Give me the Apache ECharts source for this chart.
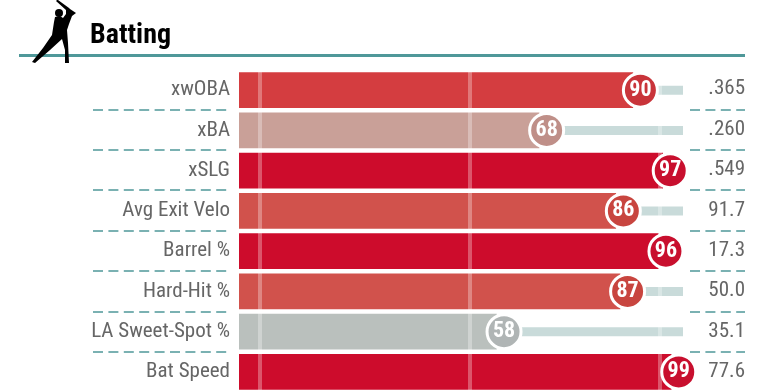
<!DOCTYPE html>
<html>
<head>
<meta charset="utf-8">
<script src="https://cdn.jsdelivr.net/npm/echarts@6/dist/echarts.min.js"></script>
<style>html,body{margin:0;background:#fff}#main{width:764px;height:392px}</style>
</head>
<body>
<div id="main"></div>
<script>
var metrics = ['xwOBA', 'xBA', 'xSLG', 'Avg Exit Velo', 'Barrel %', 'Hard-Hit %', 'LA Sweet-Spot %', 'Bat Speed'];
var percentiles = [90, 68, 97, 86, 96, 87, 58, 99];
var statValues = ['.365', '.260', '.549', '91.7', '17.3', '50.0', '35.1', '77.6'];
var barColors = ['#d43d40', '#c9a098', '#cd0c2c', '#d1524c', '#cd0c2c', '#d1524c', '#bac0bd', '#cd0c2c'];
var dotColors = ['#c9343a', '#bf8f88', '#c80f2e', '#c8453f', '#c80f2e', '#c8453f', '#b0b5b5', '#c80f2e'];
var trackMax = [100, 100, 100, 100, 100, 100, 100, 100];
var refLines = [0.6, 50, 94.6];

var narrow = '"Roboto Condensed","Liberation Sans Narrow",Roboto,sans-serif';
var teal = '#4f9899';
var dashes = { show: true, showMinLine: false, showMaxLine: false, lineStyle: { color: teal, type: [10, 5.4], width: 1.5 } };

function sideAxis(grid, labels, opts) {
  return Object.assign({
    type: 'category', gridIndex: grid, inverse: true, data: labels,
    axisLine: { show: false }, axisTick: { show: false }, splitLine: dashes,
    axisLabel: { show: false }
  }, opts || {});
}
function hiddenX(grid, min, max) {
  return { type: 'value', gridIndex: grid, min: min, max: max, show: false };
}

// bars run from the left edge of the grid, not from zero
function renderBar(params, api) {
  var end = api.coord([api.value(0), api.value(1)]);
  var h = api.size([0, 1])[1] * 0.89;
  var left = params.coordSys.x;
  return {
    type: 'rect',
    shape: { x: left, y: end[1] - h / 2, width: end[0] - left, height: h },
    style: { fill: barColors[params.dataIndex] }
  };
}

var myChart = echarts.init(document.getElementById('main'));

myChart.setOption({
  animation: false,
  title: {
    text: 'Batting', left: 85, top: 17,
    textStyle: { color: '#000', fontFamily: narrow, fontWeight: 'bold', fontSize: 28 }
  },
  graphic: [
    { type: 'rect', shape: { x: 19, y: 54, width: 726, height: 3 }, style: { fill: teal } },
    {
      type: 'polygon', z: 10,
      shape: { points: [[57, 0], [58, 0], [69, 8], [70, 9], [76, 13], [72, 16], [69, 24], [67, 30], [68, 43], [69, 63], [65, 63], [65, 50], [62, 39], [50, 50], [35, 63], [32, 62], [43, 48], [52, 35], [54, 22], [55, 17], [60, 16], [63, 18], [66, 14], [66, 10], [56, 1]] },
      style: { fill: '#000' }
    },
    { type: 'circle', z: 10, shape: { cx: 59, cy: 13, r: 4 }, style: { fill: '#000' } }
  ],
  grid: [
    { left: 239, right: 81, top: 70, height: 324 },
    { left: 93, width: 137, top: 69, height: 324 },
    { left: 690, width: 55, top: 69, height: 324 }
  ],
  xAxis: [
    hiddenX(0, -4.2, 100),
    hiddenX(0, -2.5, 101.7),
    hiddenX(1, 0, 1),
    hiddenX(2, 0, 1)
  ],
  yAxis: [
    {
      type: 'category', gridIndex: 0, inverse: true, data: metrics,
      axisLine: { show: false }, axisTick: { show: false },
      axisLabel: { margin: 9, padding: [2, 0, 0, 0], color: '#666', fontFamily: narrow, fontSize: 21 }
    },
    sideAxis(1, metrics),
    sideAxis(2, statValues, {
      position: 'right',
      axisLabel: { show: true, inside: true, margin: 0, padding: [4, 0, 0, 0], color: '#666', fontFamily: narrow, fontSize: 21 }
    })
  ],
  series: [
    {
      type: 'bar', xAxisIndex: 0, yAxisIndex: 0, data: trackMax, barWidth: 9, z: 1,
      itemStyle: { color: '#c9dbda' }, silent: true,
      markLine: {
        silent: true, symbol: 'none', label: { show: false }, z: 3,
        lineStyle: { color: 'rgba(255,255,255,0.3)', type: 'solid', width: 4 },
        data: refLines.map(function (v) { return { xAxis: v }; })
      }
    },
    {
      type: 'custom', xAxisIndex: 1, yAxisIndex: 0, z: 2, renderItem: renderBar,
      encode: { x: 0, y: 1 },
      data: percentiles.map(function (v, i) { return [v, i]; })
    },
    {
      type: 'scatter', xAxisIndex: 0, yAxisIndex: 0, symbolSize: 34, z: 5,
      data: percentiles.map(function (v, i) {
        return { value: [v, i], itemStyle: { color: dotColors[i], opacity: 1, borderColor: '#fff', borderWidth: 3 } };
      }),
      label: {
        show: true, position: 'inside', color: '#fff', fontFamily: narrow, fontWeight: 'bold', fontSize: 22,
        formatter: function (p) { return p.value[0]; }
      }
    }
  ]
});
</script>
</body>
</html>
